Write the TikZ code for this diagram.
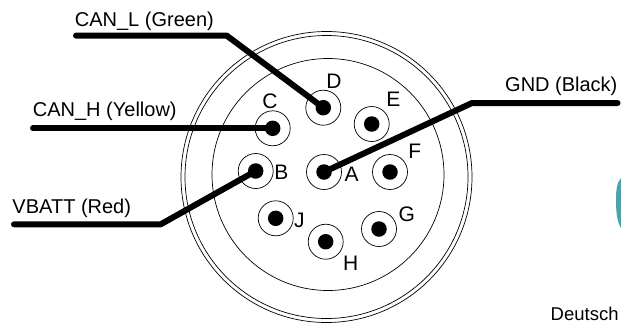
\documentclass[tikz,border=0pt]{standalone}
\usepackage{fontspec}
\setmainfont{Liberation Sans}
\definecolor{tealfrag}{HTML}{4FA3A8}
\tikzset{
  x=1bp,y=-1bp,
  ring/.style={circle,draw=black,line width=0.7bp,fill=white,minimum size=35bp,inner sep=0pt},
  core/.style={circle,fill=black,minimum size=15.5bp,inner sep=0pt},
  shell/.style={circle,draw=black,line width=0.7bp,inner sep=0pt},
  wire/.style={line width=6bp,line cap=round,line join=round,black},
  lbl/.style={font=\fontsize{20bp}{22bp}\selectfont,inner sep=0pt,anchor=base west,text=black},
  pinl/.style={font=\fontsize{21bp}{23bp}\selectfont,inner sep=0pt,text=black}
}
\begin{document}
\begin{tikzpicture}
\fill[white,use as bounding box] (0,0) rectangle (621,323);
\begin{scope}
\clip (0,0) rectangle (621,323);
\node[shell,minimum size=291bp] (outer) at (326.5,177) {};
\node[shell,minimum size=283bp] (mid) at (326.5,177) {};
\node[shell,minimum size=232bp] (inner) at (328,174.5) {};
\foreach \n/\x/\y in {D/323.3/107.7,E/371.7/124,C/272.7/128.3,B/255.7/171,A/324/172,F/390/172,J/275.7/218.3,H/325.7/241.7,G/379/229}{
  \node[ring] (r\n) at (\x,\y) {};
  \node[core] (p\n) at (\x,\y) {};
}
\coordinate (lS) at (76,35.6);
\coordinate (lB) at (226.7,35.6);
\coordinate (hS) at (33,128.3);
\coordinate (vS) at (14,224.3);
\coordinate (vB) at (160.7,224.3);
\coordinate (gB) at (472,103);
\coordinate (gE) at (617.5,103);
\draw[wire] (lS) -- (lB) -- (pD.center);
\draw[wire] (hS) -- (pC.center);
\draw[wire] (vS) -- (vB) -- (pB.center);
\draw[wire] (gE) -- (gB) -- (pA.center);
\node[lbl] (tl) at (74.7,26) {CAN\_L (Green)};
\node[lbl] (th) at (32.7,116.7) {CAN\_H (Yellow)};
\node[lbl] (tv) at (12.3,213) {VBATT (Red)};
\node[lbl] (tg) at (505,91.7) {GND (Black)};
\node[lbl,font=\fontsize{18.5bp}{21bp}\selectfont] (td) at (550.5,320) {Deutsch};
\node[pinl] at (334,81) {D};
\node[pinl] at (393.3,99.3) {E};
\node[pinl] at (270,101) {C};
\node[pinl] at (281.3,172.7) {B};
\node[pinl] at (351.7,174) {A};
\node[pinl] at (414.7,151.7) {F};
\node[pinl] at (299.3,220) {J};
\node[pinl] at (406.7,214) {G};
\node[pinl] at (350.7,263) {H};
\fill[tealfrag] (621,178) .. controls (617,182) and (616,190) .. (616,200) .. controls (616,212) and (617,222) .. (621,228) -- cycle;
\end{scope}
\end{tikzpicture}
\end{document}
